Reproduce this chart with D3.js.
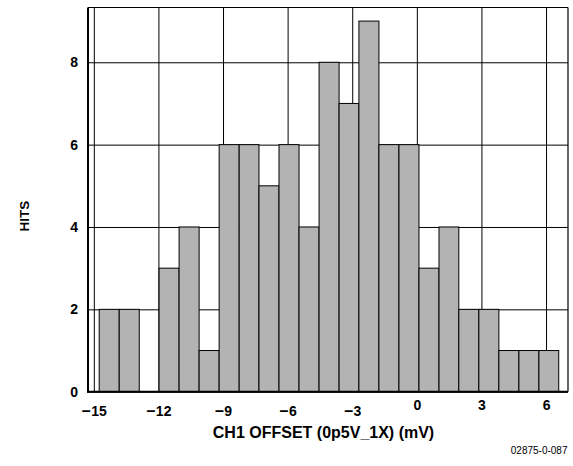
<!DOCTYPE html>
<html>
<head>
<meta charset="utf-8">
<script src="https://cdn.jsdelivr.net/npm/d3@7"></script>
<style>
html,body{margin:0;padding:0;background:#fff;}
svg{display:block;font-family:"Liberation Sans",Arial,Helvetica,sans-serif;}
</style>
</head>
<body>
<svg id="chart" width="573" height="466"></svg>
<script>
// ---- data ----
const binEdges = [-14.75,-13.82,-12.89,-11.97,-11.04,-10.11,-9.18,-8.25,-7.33,-6.40,-5.47,-4.54,-3.61,-2.69,-1.76,-0.83,0.10,1.03,1.95,2.88,3.81,4.74,5.67,6.59];
const hits = [2,2,0,3,4,1,6,6,5,6,4,8,7,9,6,6,3,4,2,2,1,1,1];
const xTicks = [-15,-12,-9,-6,-3,0,3,6];
const yTicks = [0,2,4,6,8];
const xDomain = [-15.27, 7.02];
const yDomain = [0, 9.33];

// ---- layout ----
const L = 88, R = 568, T = 7.5, B = 391.7;
const FF = "'Liberation Sans',Arial,sans-serif";
const svg = d3.select("#chart");
const x = d3.scaleLinear().domain(xDomain).range([L, R]);
const y = d3.scaleLinear().domain(yDomain).range([B, T]);

svg.append("rect").attr("width",573).attr("height",466).attr("fill","#fff");

// y axis + horizontal grid
const gy = svg.append("g").attr("transform",`translate(${L},0)`)
  .call(d3.axisLeft(y).tickValues(yTicks).tickSize(-(R-L)).tickPadding(10).tickFormat(d3.format("d")));
gy.select(".domain").remove();
gy.selectAll(".tick line").attr("stroke","#000").attr("stroke-width",1);
gy.selectAll(".tick text").attr("font-size",14).attr("font-weight","bold").attr("fill","#000")
  .attr("font-family",FF);

// x axis + vertical grid
const gx = svg.append("g").attr("transform",`translate(0,${B})`)
  .call(d3.axisBottom(x).tickValues(xTicks).tickSize(-(B-T)).tickFormat(""));
gx.select(".domain").remove();
gx.selectAll(".tick line").attr("stroke","#000").attr("stroke-width",1);
gx.selectAll(".tick text").each(function(d){
  const t = d3.select(this)
    .attr("font-size",14).attr("font-weight","bold").attr("fill","#000")
    .attr("font-family",FF).attr("dy",null)
    .attr("y", d < 0 ? 24 : 18.5).text(null);
  if (d < 0) {
    t.append("tspan").attr("font-size",16).text("\u2013");
    t.append("tspan").attr("dx",0.5).text(String(Math.abs(d)));
  } else {
    t.text(String(d));
  }
});

// bars
const barData = hits.map((v,i) => ({v, lo: binEdges[i], hi: binEdges[i+1]})).filter(d => d.v > 0);
svg.append("g").selectAll("rect").data(barData).join("rect")
  .attr("x", d => x(d.lo))
  .attr("width", d => x(d.hi) - x(d.lo))
  .attr("y", d => y(d.v))
  .attr("height", d => y(0) - y(d.v))
  .attr("fill","#b3b3b3")
  .attr("stroke","#000")
  .attr("stroke-width",1);

// frame
svg.append("line").attr("x1",L).attr("x2",R).attr("y1",T).attr("y2",T).attr("stroke","#000").attr("stroke-width",1.2);
svg.append("line").attr("x1",R).attr("x2",R).attr("y1",T).attr("y2",B).attr("stroke","#000").attr("stroke-width",1.2);
svg.append("line").attr("x1",L).attr("x2",L).attr("y1",T).attr("y2",B+1).attr("stroke","#000").attr("stroke-width",2);
svg.append("line").attr("x1",L-1).attr("x2",R).attr("y1",B).attr("y2",B).attr("stroke","#000").attr("stroke-width",2);

// labels
svg.append("text").attr("x",323.5).attr("y",437.5).attr("text-anchor","middle")
  .attr("font-size",16).attr("font-weight","bold").text("CH1 OFFSET (0p5V_1X) (mV)");
svg.append("text").attr("transform","translate(28.5,216) rotate(-90)").attr("text-anchor","middle")
  .attr("font-size",13.5).attr("font-weight","bold").text("HITS");
svg.append("text").attr("x",567.5).attr("y",454).attr("text-anchor","end")
  .attr("font-size",10).text("02875-0-087");
</script>
</body>
</html>
